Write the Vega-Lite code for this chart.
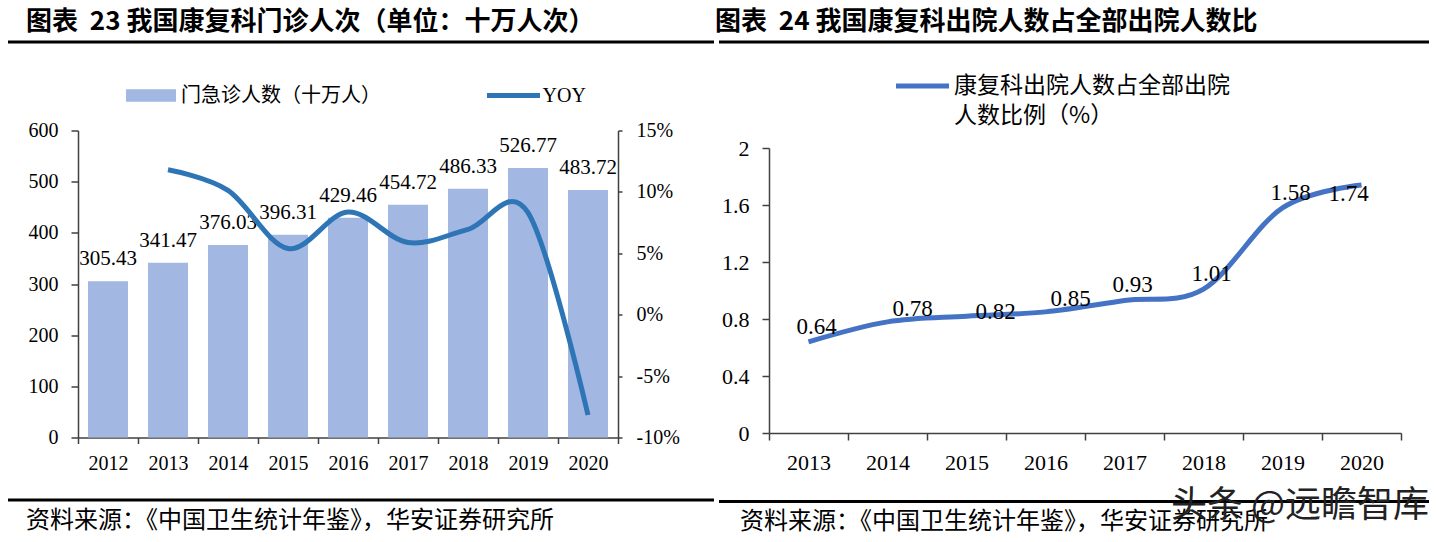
{
  "$schema": "https://vega.github.io/schema/vega-lite/v6.json",
  "background": "white",
  "padding": {"left": 8, "top": 7.5, "right": 5, "bottom": 5},
  "title": {"text": "头条 @远瞻智库", "orient": "bottom", "anchor": "end", "offset": -46, "font": "Noto Sans CJK SC", "fontSize": 36, "fontWeight": "normal", "color": "#222222"},
  "config": {
    "view": {"stroke": null},
    "font": "Liberation Serif",
    "axis": {"domainColor": "#404040", "domainWidth": 1.5, "tickColor": "#404040", "tickWidth": 1.5, "labelColor": "black", "labelFont": "Liberation Serif", "grid": false, "title": null},
    "legend": {"padding": 0, "title": null, "labelColor": "black", "labelLimit": 600}
  },
  "datasets": {
    "visits": [
      {"year": "2012", "visits": 305.43, "yoy": null},
      {"year": "2013", "visits": 341.47, "yoy": 11.80},
      {"year": "2014", "visits": 376.03, "yoy": 10.12},
      {"year": "2015", "visits": 396.31, "yoy": 5.39},
      {"year": "2016", "visits": 429.46, "yoy": 8.36},
      {"year": "2017", "visits": 454.72, "yoy": 5.88},
      {"year": "2018", "visits": 486.33, "yoy": 6.95},
      {"year": "2019", "visits": 526.77, "yoy": 8.32},
      {"year": "2020", "visits": 483.72, "yoy": -8.17}
    ],
    "ratio": [
      {"year": "2013", "ratio": 0.64},
      {"year": "2014", "ratio": 0.78},
      {"year": "2015", "ratio": 0.82},
      {"year": "2016", "ratio": 0.85},
      {"year": "2017", "ratio": 0.93},
      {"year": "2018", "ratio": 1.01},
      {"year": "2019", "ratio": 1.58},
      {"year": "2020", "ratio": 1.74}
    ],
    "empty": []
  },
  "spacing": 0,
  "resolve": {"scale": {"color": "independent", "stroke": "independent"}, "legend": {"color": "independent", "stroke": "independent"}},
  "hconcat": [
    {
      "spacing": 77,
      "vconcat": [
        {
          "width": 704, "height": 1,
          "view": {"stroke": "black", "strokeWidth": 2},
          "title": {"text": "图表\u00a0\u00a023 我国康复科门诊人次（单位：十万人次）", "anchor": "start", "dx": 17, "offset": 7, "font": "Noto Sans CJK SC", "fontSize": 26, "fontWeight": "bold", "color": "black"},
          "data": {"name": "empty"},
          "mark": "point"
        },
        {
          "spacing": 25,
          "vconcat": [
            {
              "spacing": 0,
              "hconcat": [
                {"width": 19, "height": 1, "data": {"name": "empty"}, "mark": "point"},
                {
                  "width": 540, "height": 307,
                  "data": {"name": "visits"},
                  "encoding": {
                    "x": {"field": "year", "type": "ordinal", "scale": {"paddingInner": 0, "paddingOuter": 0},
                      "axis": {"tickBand": "extent", "tickSize": 6, "labelPadding": 10, "labelFontSize": 20, "labelAngle": 0}}
                  },
                  "layer": [
                    {
                      "encoding": {
                        "y": {"field": "visits", "type": "quantitative", "scale": {"domain": [0, 600], "nice": false},
                          "axis": {"orient": "left", "values": [0, 100, 200, 300, 400, 500, 600], "tickSize": 7, "labelPadding": 13, "labelFontSize": 20}}
                      },
                      "layer": [
                        {
                          "mark": {"type": "bar", "width": {"band": 0.667}},
                          "encoding": {
                            "color": {"datum": "门急诊人数（十万人）", "scale": {"range": ["#A2B7E2"]},
                              "legend": {"orient": "none", "legendX": 129.5, "legendY": 41.5, "symbolType": "M-2,-0.5H2V0.5H-2Z", "symbolSize": 625, "symbolStrokeWidth": 0, "symbolOpacity": 1, "labelFont": "Noto Sans CJK SC", "labelFontSize": 20, "labelOffset": 17.5}}
                          }
                        },
                        {
                          "mark": {"type": "text", "baseline": "alphabetic", "dy": -16, "fontSize": 21, "font": "Liberation Serif", "color": "black"},
                          "encoding": {"text": {"field": "visits", "type": "quantitative", "format": ".2f"}}
                        }
                      ]
                    },
                    {
                      "mark": {"type": "line", "interpolate": "cardinal", "strokeWidth": 5},
                      "encoding": {
                        "y": {"field": "yoy", "type": "quantitative", "scale": {"domain": [-10, 15], "nice": false},
                          "axis": {"orient": "right", "values": [-10, -5, 0, 5, 10, 15], "labelExpr": "datum.value + '%'", "tickSize": 4, "labelPadding": 14, "labelFontSize": 20}},
                        "stroke": {"datum": "YOY", "scale": {"range": ["#2E75B6"]},
                          "legend": {"orient": "none", "legendX": 475.5, "legendY": 25, "symbolType": "stroke", "symbolSize": 2809, "symbolStrokeWidth": 5, "labelFont": "Liberation Serif", "labelFontSize": 20, "labelOffset": 0}}
                      }
                    }
                  ],
                  "resolve": {"scale": {"y": "independent"}}
                }
              ]
            },
            {
              "width": 704, "height": 1,
              "view": {"stroke": "black", "strokeWidth": 2},
              "title": {"text": "资料来源：《中国卫生统计年鉴》，华安证券研究所", "orient": "bottom", "anchor": "start", "dx": 17, "offset": 8, "font": "Noto Sans CJK SC", "fontSize": 24, "fontWeight": "normal", "color": "black"},
              "data": {"name": "empty"},
              "mark": "point"
            }
          ]
        }
      ]
    },
    {
      "spacing": 93.5,
      "vconcat": [
        {
          "width": 708, "height": 1,
          "view": {"stroke": "black", "strokeWidth": 2},
          "title": {"text": "图表\u00a0\u00a024 我国康复科出院人数占全部出院人数比", "anchor": "start", "dx": -5, "offset": 7, "font": "Noto Sans CJK SC", "fontSize": 26, "fontWeight": "bold", "color": "black"},
          "data": {"name": "empty"},
          "mark": "point"
        },
        {
          "spacing": 27,
          "vconcat": [
            {
              "spacing": 0,
              "hconcat": [
                {"width": 0.5, "height": 1, "data": {"name": "empty"}, "mark": "point"},
                {
                  "width": 632, "height": 285,
                  "data": {"name": "ratio"},
                  "encoding": {
                    "x": {"field": "year", "type": "ordinal", "scale": {"paddingInner": 0, "paddingOuter": 0},
                      "axis": {"tickBand": "extent", "tickSize": 7, "labelPadding": 12, "labelFontSize": 22, "labelAngle": 0}},
                    "y": {"field": "ratio", "type": "quantitative", "scale": {"domain": [0, 2], "nice": false},
                      "axis": {"values": [0, 0.4, 0.8, 1.2, 1.6, 2], "format": "~g", "tickSize": 7, "labelPadding": 13, "labelFontSize": 22}}
                  },
                  "layer": [
                    {
                      "mark": {"type": "line", "interpolate": "cardinal", "strokeWidth": 5},
                      "encoding": {
                        "stroke": {"datum": "康复科出院人数占全部出院人数比例（%）", "scale": {"range": ["#4472C4"]},
                          "legend": {"orient": "none", "legendX": 173.5, "legendY": 15.5, "symbolType": "stroke", "symbolSize": 2809, "symbolStrokeWidth": 5, "labelFont": "Noto Sans CJK SC", "labelFontSize": 23, "labelOffset": 2.5,
                            "labelExpr": "['康复科出院人数占全部出院', '人数比例（%）']",
                            "encode": {"labels": {"update": {"lineHeight": {"value": 30}}}}}}
                      }
                    },
                    {
                      "transform": [{"filter": {"field": "year", "oneOf": ["2013", "2017", "2018", "2019"]}}],
                      "mark": {"type": "text", "baseline": "alphabetic", "dx": 8, "dy": -8, "fontSize": 23, "font": "Liberation Serif", "color": "black"},
                      "encoding": {"text": {"field": "ratio", "type": "quantitative", "format": ".2f"}}
                    },
                    {
                      "transform": [{"filter": {"field": "year", "oneOf": ["2014", "2016"]}}],
                      "mark": {"type": "text", "baseline": "alphabetic", "dx": 25, "dy": -6, "fontSize": 23, "font": "Liberation Serif", "color": "black"},
                      "encoding": {"text": {"field": "ratio", "type": "quantitative", "format": ".2f"}}
                    },
                    {
                      "transform": [{"filter": {"field": "year", "oneOf": ["2015"]}}],
                      "mark": {"type": "text", "baseline": "alphabetic", "dx": 29, "dy": 3, "fontSize": 23, "font": "Liberation Serif", "color": "black"},
                      "encoding": {"text": {"field": "ratio", "type": "quantitative", "format": ".2f"}}
                    },
                    {
                      "transform": [{"filter": {"field": "year", "oneOf": ["2020"]}}],
                      "mark": {"type": "text", "baseline": "alphabetic", "dx": -13, "dy": 16, "fontSize": 23, "font": "Liberation Serif", "color": "black"},
                      "encoding": {"text": {"field": "ratio", "type": "quantitative", "format": ".2f"}}
                    }
                  ]
                }
              ]
            },
            {
              "width": 708, "height": 1,
              "view": {"stroke": "black", "strokeWidth": 2},
              "title": {"text": "资料来源：《中国卫生统计年鉴》，华安证券研究所", "orient": "bottom", "anchor": "start", "dx": 20, "offset": 8, "font": "Noto Sans CJK SC", "fontSize": 24, "fontWeight": "normal", "color": "black"},
              "data": {"name": "empty"},
              "mark": "point"
            }
          ]
        }
      ]
    }
  ]
}
